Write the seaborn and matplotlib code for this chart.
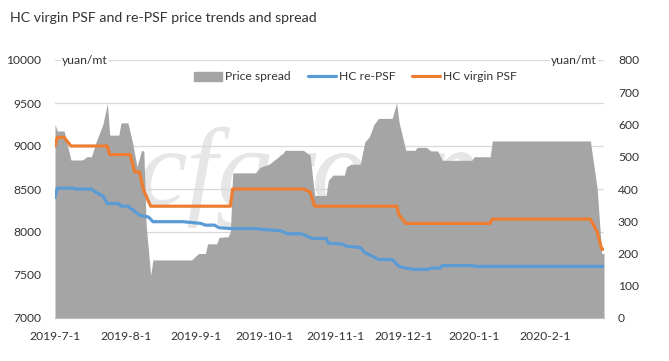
import matplotlib
matplotlib.use("Agg")
import matplotlib.pyplot as plt
import matplotlib.patches as mpatches
import matplotlib.lines as mlines
import seaborn as sns
import pandas as pd

# ---------------- data ----------------
virgin_dates = ["2019-07-01", "2019-07-02", "2019-07-05", "2019-07-08", "2019-07-24", "2019-07-25",
                "2019-08-03", "2019-08-05", "2019-08-07", "2019-08-09", "2019-08-12", "2019-09-16",
                "2019-09-17", "2019-10-18", "2019-10-21", "2019-10-22", "2019-10-23", "2019-11-28",
                "2019-11-29", "2019-12-02", "2020-01-08", "2020-01-09", "2020-02-21", "2020-02-24",
                "2020-02-26", "2020-02-27"]
virgin_vals = [9000, 9100, 9100, 9000, 9000, 8900,
               8900, 8700, 8700, 8480, 8300, 8300,
               8500, 8500, 8465, 8380, 8300, 8300,
               8200, 8100, 8100, 8150, 8150, 8000,
               7800, 7800]

re_dates = ["2019-07-01", "2019-07-02", "2019-07-09", "2019-07-10", "2019-07-17", "2019-07-19",
            "2019-07-22", "2019-07-24", "2019-07-29", "2019-07-30", "2019-08-02", "2019-08-05",
            "2019-08-07", "2019-08-11", "2019-08-13", "2019-08-26", "2019-08-30", "2019-09-03",
            "2019-09-05", "2019-09-09", "2019-09-11", "2019-09-16", "2019-09-27", "2019-09-30",
            "2019-10-08", "2019-10-11", "2019-10-17", "2019-10-22", "2019-10-28", "2019-10-29",
            "2019-11-04", "2019-11-06", "2019-11-12", "2019-11-14", "2019-11-18", "2019-11-20",
            "2019-11-26", "2019-11-29", "2019-12-02", "2019-12-06", "2019-12-12", "2019-12-13",
            "2019-12-17", "2019-12-18", "2019-12-31", "2020-01-02", "2020-02-27"]
re_vals = [8400, 8510, 8510, 8500, 8500, 8460,
           8420, 8330, 8330, 8300, 8300, 8240,
           8195, 8175, 8120, 8120, 8110, 8100,
           8080, 8080, 8050, 8040, 8040, 8030,
           8015, 7980, 7980, 7925, 7925, 7870,
           7860, 7835, 7820, 7760, 7710, 7680,
           7680, 7600, 7580, 7565, 7565, 7580,
           7580, 7610, 7610, 7600, 7600]

spread_dates = ["2019-07-01", "2019-07-02", "2019-07-05", "2019-07-08", "2019-07-13", "2019-07-15",
                "2019-07-17", "2019-07-19", "2019-07-22", "2019-07-24", "2019-07-25", "2019-07-29",
                "2019-07-30", "2019-08-02", "2019-08-04", "2019-08-06", "2019-08-08", "2019-08-09",
                "2019-08-10", "2019-08-12", "2019-08-13", "2019-08-30", "2019-09-02", "2019-09-05",
                "2019-09-06", "2019-09-10", "2019-09-11", "2019-09-15", "2019-09-16", "2019-09-17",
                "2019-09-27", "2019-09-29", "2019-10-03", "2019-10-09", "2019-10-10", "2019-10-18",
                "2019-10-21", "2019-10-22", "2019-10-23", "2019-10-28", "2019-10-29", "2019-10-31",
                "2019-11-05", "2019-11-06", "2019-11-08", "2019-11-12", "2019-11-14", "2019-11-16",
                "2019-11-18", "2019-11-20", "2019-11-26", "2019-11-28", "2019-11-29", "2019-12-02",
                "2019-12-06", "2019-12-07", "2019-12-11", "2019-12-13", "2019-12-16", "2019-12-18",
                "2019-12-28", "2019-12-31", "2020-01-01", "2020-01-08", "2020-01-09", "2020-02-21",
                "2020-02-24", "2020-02-26", "2020-02-27"]
spread_vals = [600, 580, 580, 490, 490, 500,
               500, 545, 600, 665, 567, 567,
               605, 605, 545, 469, 520, 517,
               290, 132, 180, 180, 200, 200,
               230, 230, 250, 252, 268, 450,
               450, 467, 477, 510, 520, 520,
               505, 440, 380, 380, 427, 443,
               443, 469, 477, 477, 546, 562,
               600, 619, 619, 667, 608, 520,
               520, 529, 529, 518, 518, 489,
               489, 489, 500, 500, 549, 549,
               401, 200, 200]

tick_dates = ["2019-07-01", "2019-08-01", "2019-09-01", "2019-10-01", "2019-11-01",
              "2019-12-01", "2020-01-01", "2020-02-01"]
tick_labels = ["2019-7-1", "2019-8-1", "2019-9-1", "2019-10-1", "2019-11-1",
               "2019-12-1", "2020-1-1", "2020-2-1"]
left_ticks = [7000, 7500, 8000, 8500, 9000, 9500, 10000]
right_ticks = [0, 100, 200, 300, 400, 500, 600, 700, 800]

title = "HC virgin PSF and re-PSF price trends and spread"
series_names = ["Price spread", "HC re-PSF", "HC virgin PSF"]

# ---------------- style ----------------
sns.set_style("white")
plt.rcParams["font.family"] = ["Lato", "DejaVu Sans"]
TXT = "#333333"
GRAY = "#A5A5A5"
BLUE = "#5B9BD5"
ORANGE = "#ED7D31"
GRID = "#D9D9D9"
FS = 8.7

fig = plt.figure(figsize=(6.69, 3.61), dpi=100)
rect = [55 / 669, 1 - 318 / 361, (604 - 55) / 669, (318 - 60) / 361]

xmin = pd.Timestamp("2019-07-01")
xmax = pd.Timestamp("2020-02-27")

# grid axes (behind everything)
ax_grid = fig.add_axes(rect)
ax_grid.set_ylim(left_ticks[0], left_ticks[-1])
ax_grid.set_yticks(left_ticks)
ax_grid.set_xticks([])
ax_grid.tick_params(axis="y", length=0, labelleft=False)
ax_grid.grid(axis="y", color=GRID, linewidth=0.9)
for s in ax_grid.spines.values():
    s.set_visible(False)

# watermark behind area (belongs to the bottom axes)
ax_grid.text(138 / 669, 1 - 205 / 361, "cfgroup", transform=fig.transFigure, fontsize=80,
             style="italic", family="Liberation Serif", color="#e6e6e6",
             ha="left", va="baseline", zorder=0.5)

# area axes (right scale)
ax_area = fig.add_axes(rect)
ax_area.patch.set_visible(False)
sd = pd.to_datetime(spread_dates)
ax_area.fill_between(sd, spread_vals, 0, color=GRAY, linewidth=0, zorder=1)

# line axes (left scale)
ax_line = ax_area.twinx()
sns.lineplot(x=pd.to_datetime(re_dates), y=re_vals, ax=ax_line, color=BLUE,
             linewidth=2.3, estimator=None, legend=False)
sns.lineplot(x=pd.to_datetime(virgin_dates), y=virgin_vals, ax=ax_line, color=ORANGE,
             linewidth=2.3, estimator=None, legend=False)
for ln in ax_line.lines:
    ln.set_solid_joinstyle("round")

ax_area.set_ylim(right_ticks[0], right_ticks[-1])
ax_area.set_yticks(right_ticks)
ax_area.yaxis.tick_right()
ax_area.tick_params(axis="y", length=0, pad=10, labelsize=FS, labelcolor=TXT,
                    labelleft=False, labelright=True)

ax_line.yaxis.tick_left()
ax_line.set_ylim(left_ticks[0], left_ticks[-1])
ax_line.set_yticks(left_ticks)
ax_line.tick_params(axis="y", length=0, pad=10, labelsize=FS, labelcolor=TXT,
                    labelleft=True, labelright=False)
ax_line.set_ylabel("")
ax_line.set_xlabel("")

ax_area.set_xlim(xmin, xmax)
ax_area.set_xticks(pd.to_datetime(tick_dates))
ax_area.set_xticklabels(tick_labels)
ax_area.tick_params(axis="x", length=4, width=0.8, color="#BFBFBF", pad=5,
                    labelsize=FS, labelcolor=TXT)

for a in (ax_area, ax_line):
    for k, s in a.spines.items():
        s.set_visible(False)
ax_area.spines["bottom"].set_visible(True)
ax_area.spines["bottom"].set_color("#BFBFBF")
ax_area.spines["bottom"].set_linewidth(0.8)

# unit labels
box = dict(facecolor="white", edgecolor="none", pad=1)
ax_line.text(0.013, 1.0, "yuan/mt", transform=ax_line.transAxes, ha="left", va="center",
             fontsize=FS, color=TXT, bbox=box)
ax_line.text(0.987, 1.0, "yuan/mt", transform=ax_line.transAxes, ha="right", va="center",
             fontsize=FS, color=TXT, bbox=box)

# title
fig.text(10 / 669, 1 - 18 / 361, title, ha="left", va="center", fontsize=10.2, color=TXT)

# legend
handles = [mpatches.Patch(color=GRAY),
           mlines.Line2D([], [], color=BLUE, linewidth=2.3),
           mlines.Line2D([], [], color=ORANGE, linewidth=2.3)]
fig.legend(handles, series_names, loc="center", bbox_to_anchor=(355.5 / 669, 1 - 77 / 361),
           ncol=3, frameon=False, fontsize=FS, handlelength=2.3, handletextpad=0.25,
           columnspacing=1.4, labelcolor=TXT)

fig.savefig("out.png", dpi=100)
